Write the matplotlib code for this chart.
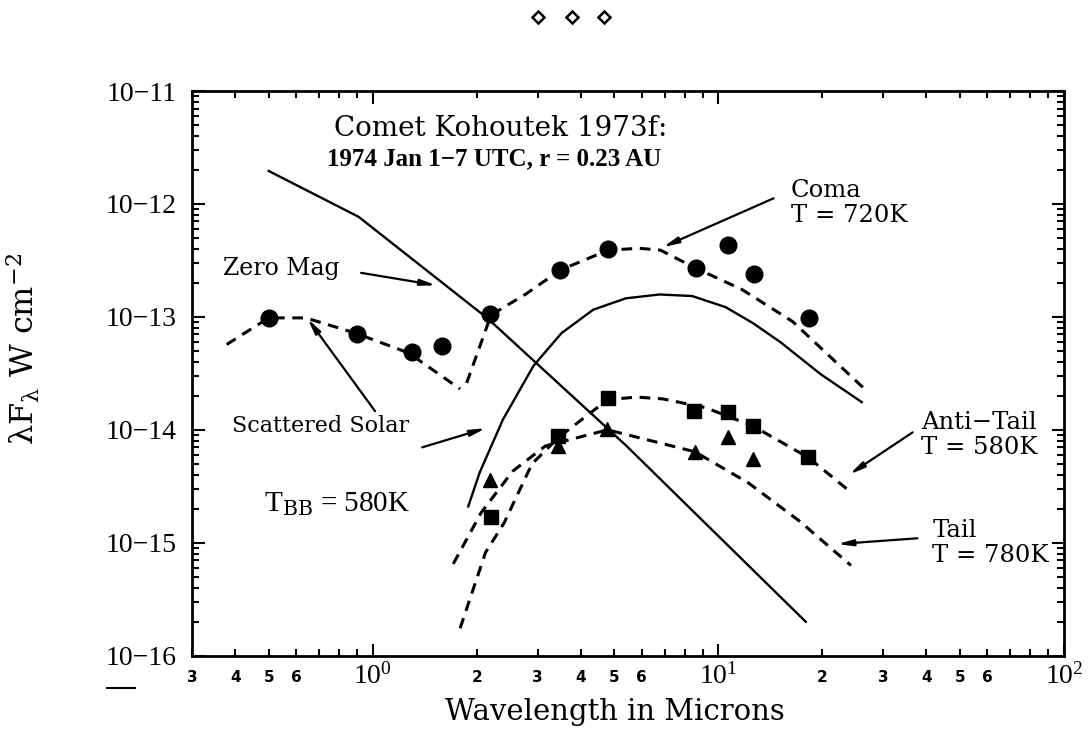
import matplotlib
matplotlib.use('Agg')
import matplotlib.pyplot as plt
from matplotlib.lines import Line2D

# valeurs : longueur d'onde (microns), flux (W cm^-2)
circ_wl = [0.50, 0.90, 1.30, 1.59, 2.19, 3.49, 4.8, 8.6, 10.7, 12.7, 18.3]
circ_flux = [9.8e-14, 7.1e-14, 4.9e-14, 5.5e-14, 1.06e-13, 2.6e-13, 4.0e-13,
             2.7e-13, 4.3e-13, 2.4e-13, 9.8e-14]

sq_wl = [2.20, 3.44, 4.78, 8.5, 10.7, 12.6, 18.2]
sq_flux = [1.69e-15, 8.9e-15, 1.91e-14, 1.47e-14, 1.44e-14, 1.08e-14, 5.7e-15]

tri_wl = [2.18, 3.44, 4.75, 8.55, 10.7, 12.6]
tri_flux = [3.6e-15, 7.2e-15, 1.01e-14, 6.4e-15, 8.7e-15, 5.5e-15]

zero_wl = [0.50, 0.91, 2.15, 5.40, 17.9]
zero_flux = [1.96e-12, 7.7e-13, 9.7e-14, 7.3e-15, 2.0e-16]

bb_wl = [1.89, 2.04, 2.38, 2.92, 3.52, 4.35, 5.4, 6.76, 8.4, 10.5, 12.6,
         15.1, 19.8, 26.0]
bb_flux = [2.1e-15, 4.2e-15, 1.23e-14, 3.7e-14, 7.2e-14, 1.16e-13, 1.46e-13,
           1.58e-13, 1.53e-13, 1.22e-13, 8.8e-14, 6.0e-14, 3.1e-14, 1.76e-14]

solar_wl = [0.378, 0.50, 0.64, 0.89, 1.27, 1.79]
solar_flux = [5.7e-14, 9.8e-14, 9.8e-14, 7.2e-14, 4.8e-14, 2.3e-14]

coma_wl = [1.87, 2.20, 2.78, 3.49, 4.8, 5.9, 6.8, 8.6, 11.7, 16.4, 26.5]
coma_flux = [2.6e-14, 1.04e-13, 1.6e-13, 2.6e-13, 3.9e-13, 4.05e-13, 3.9e-13,
             2.7e-13, 1.75e-13, 9.1e-14, 2.3e-14]

anti_wl = [1.79, 2.12, 2.40, 2.89, 3.44, 4.78, 5.8, 6.9, 9.2, 12.6, 18.2, 24.2]
anti_flux = [1.75e-16, 8.2e-16, 1.5e-15, 5.0e-15, 8.5e-15, 1.85e-14, 1.95e-14,
             1.88e-14, 1.57e-14, 1.08e-14, 5.7e-15, 2.8e-15]

tail_wl = [1.71, 2.06, 2.54, 3.16, 4.78, 8.55, 12.2, 17.2, 24.2]
tail_flux = [6.5e-16, 1.85e-15, 4.3e-15, 7.2e-15, 1.0e-14, 6.4e-15, 3.4e-15,
             1.55e-15, 6.3e-16]

y_ticks = [1e-16, 1e-15, 1e-14, 1e-13, 1e-12, 1e-11]
y_labels = ['10\u221216', '10\u221215', '10\u221214', '10\u221213', '10\u221212', '10\u221211']
x_major = [1, 10, 100]
x_major_labels = [r'$\mathregular{10^0}$', r'$\mathregular{10^1}$', r'$\mathregular{10^2}$']
x_minor = [0.3, 0.4, 0.5, 0.6, 0.7, 0.8, 0.9,
           2, 3, 4, 5, 6, 7, 8, 9,
           20, 30, 40, 50, 60, 70, 80, 90]
x_minor_labels = ['3', '4', '5', '6', '', '', '',
                  '2', '3', '4', '5', '6', '', '', '',
                  '2', '3', '4', '5', '6', '', '', '']

plt.rcParams['font.family'] = ['DejaVu Serif']
plt.rcParams['mathtext.fontset'] = 'dejavuserif'

fig = plt.figure(figsize=(10.89, 7.46), dpi=100)
ax = fig.add_axes([0.1763, 0.121, 0.8007, 0.757])
ax.set_xscale('log')
ax.set_yscale('log')
ax.set_xlim(0.3, 100)
ax.set_ylim(1e-16, 1e-11)

dash = dict(color='black', lw=2.2, linestyle=(0, (3.5, 2.5)))
ax.plot(zero_wl, zero_flux, color='black', lw=1.7)
ax.plot(bb_wl, bb_flux, color='black', lw=1.7)
ax.plot(solar_wl, solar_flux, **dash)
ax.plot(coma_wl, coma_flux, **dash)
ax.plot(anti_wl, anti_flux, **dash)
ax.plot(tail_wl, tail_flux, **dash)

ax.plot(circ_wl, circ_flux, 'o', color='black', ms=12)
ax.plot(sq_wl, sq_flux, 's', color='black', ms=10)
ax.plot(tri_wl, tri_flux, '^', color='black', ms=10)

# axes
for s in ax.spines.values():
    s.set_linewidth(2)
ax.set_yticks(y_ticks)
ax.set_yticklabels(y_labels, fontsize=20, family='Liberation Serif')
ax.set_xticks(x_major)
ax.set_xticklabels(x_major_labels, fontsize=20, family='Liberation Serif')
ax.set_xticks(x_minor, minor=True)
ax.set_xticklabels(x_minor_labels, minor=True, fontsize=11,
                   fontweight='bold', family='DejaVu Sans')
ax.tick_params(which='both', direction='in', top=True, right=True, width=1.5)
ax.tick_params(axis='x', which='major', length=9, pad=5)
ax.tick_params(axis='y', which='major', length=9, pad=11)
ax.tick_params(which='minor', length=5, pad=10)
ax.tick_params(axis='y', which='minor', labelleft=False)

ax.set_xlabel('Wavelength in Microns', fontsize=21)
ax.xaxis.set_label_coords(0.485, -0.075)
ax.set_ylabel('\u03bbF$_{\\mathrm{\u03bb}}$ W cm$^{-2}$', fontsize=23)
ax.yaxis.set_label_coords(-0.172, 0.543)

# textes et fleches
arr = dict(arrowstyle='-|>,head_length=0.9,head_width=0.18', color='black',
           lw=1.6, shrinkA=0, shrinkB=0)
ax.text(0.1625, 0.933, 'Comet Kohoutek 1973f:', transform=ax.transAxes,
        fontsize=20, va='center')
ax.text(0.1546, 0.880, '1974 Jan 1\u22127 UTC, r = 0.23 AU', transform=ax.transAxes,
        fontsize=18, va='center', fontweight='bold', family='Liberation Serif')

ax.text(0.102, 0.686, 'Zero Mag', transform=ax.transAxes, fontsize=17,
        ha='center', va='center')
ax.annotate('', xy=(0.280, 0.656), xytext=(0.194, 0.678),
            xycoords='axes fraction', arrowprops=arr)

ax.text(0.148, 0.407, 'Scattered Solar', transform=ax.transAxes, fontsize=16,
        ha='center', va='center')
ax.annotate('', xy=(0.1325, 0.597), xytext=(0.210, 0.433),
            xycoords='axes fraction', arrowprops=arr)
ax.annotate('', xy=(0.337, 0.403), xytext=(0.264, 0.369),
            xycoords='axes fraction', arrowprops=arr)

ax.text(0.166, 0.269, r'T$_{\mathrm{BB}}$ = 580K', transform=ax.transAxes,
        fontsize=21, ha='center', va='center', family='Liberation Serif')

ax.text(0.687, 0.802, 'Coma\nT = 720K', transform=ax.transAxes, fontsize=17.5,
        ha='left', va='center', linespacing=1.1)
ax.annotate('', xy=(0.540, 0.7235), xytext=(0.667, 0.810),
            xycoords='axes fraction', arrowprops=arr)

ax.text(0.836, 0.391, 'Anti\u2212Tail\nT = 580K', transform=ax.transAxes,
        fontsize=17.5, ha='left', va='center', linespacing=1.1)
ax.annotate('', xy=(0.754, 0.321), xytext=(0.8265, 0.3956),
            xycoords='axes fraction', arrowprops=arr)

ax.text(0.849, 0.200, 'Tail\nT = 780K', transform=ax.transAxes, fontsize=17.5,
        ha='left', va='center', linespacing=1.1)
ax.annotate('', xy=(0.740, 0.1977), xytext=(0.832, 0.208),
            xycoords='axes fraction', arrowprops=arr)

# petits losanges en haut de page
fig.add_artist(Line2D([0.494, 0.525, 0.555], [0.977, 0.977, 0.977],
                      transform=fig.transFigure, ls='none', marker='D', ms=6,
                      mfc='white', mec='black', mew=1.8))
fig.add_artist(Line2D([0.098, 0.124], [0.078, 0.078], transform=fig.transFigure,
                      color='black', lw=1.5))

fig.savefig('out.png', dpi=100)
